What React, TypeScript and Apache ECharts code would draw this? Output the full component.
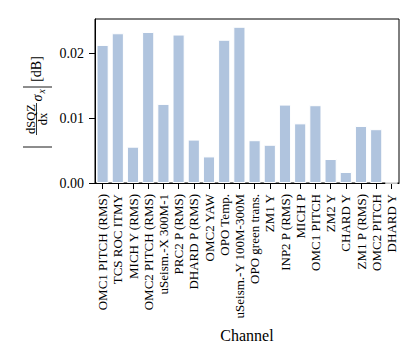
import React, { useEffect, useRef } from "react";
import * as echarts from "echarts";

const categories = [
  "OMC1 PITCH (RMS)",
  "TCS ROC ITMY",
  "MICH Y (RMS)",
  "OMC2 PITCH (RMS)",
  "uSeism.-X 300M-1",
  "PRC2 P (RMS)",
  "DHARD P (RMS)",
  "OMC2 YAW",
  "OPO Temp.",
  "uSeism.-Y 100M-300M",
  "OPO green trans.",
  "ZM1 Y",
  "INP2 P (RMS)",
  "MICH P",
  "OMC1 PITCH",
  "ZM2 Y",
  "CHARD Y",
  "ZM1 P (RMS)",
  "OMC2 PITCH",
  "DHARD Y",
];

const values = [
  0.0213, 0.0231, 0.0056, 0.0233, 0.0122, 0.0229, 0.0067, 0.0041, 0.0221, 0.0241,
  0.0066, 0.0059, 0.0121, 0.0092, 0.012, 0.0037, 0.0017, 0.0088, 0.0083, 0.0,
];

const yTicks = [0, 0.01, 0.02];
const yMax = 0.0253;
const xName = "Channel";

const FONT = "'Liberation Serif', 'Times New Roman', serif";

export default function App() {
  const ref = useRef<HTMLDivElement>(null);
  useEffect(() => {
    if (!ref.current) return;
    const chart = echarts.init(ref.current, null, { renderer: "svg" });
    const lbl = (text: string, x: number, y: number, size: number, extra: any = {}) => ({
      type: "text",
      x,
      y,
      style: {
        text,
        fontFamily: FONT,
        fontSize: size,
        fill: "#000",
        align: "center",
        verticalAlign: "middle",
        ...extra,
      },
    });
    const vline = (x: number, y1: number, y2: number, w = 1) => ({
      type: "line",
      shape: { x1: x, y1, x2: x, y2 },
      style: { stroke: "#000", lineWidth: w },
    });
    chart.setOption({
      animation: false,
      backgroundColor: "#fff",
      textStyle: { fontFamily: FONT, color: "#000" },
      grid: {
        left: 95,
        right: 16,
        top: 19,
        bottom: 177,
        show: true,
        borderColor: "#000",
        borderWidth: 1,
        backgroundColor: "transparent",
      },
      xAxis: {
        type: "category",
        data: categories,
        boundaryGap: true,
        name: xName,
        nameLocation: "middle",
        nameGap: 144,
        nameTextStyle: { fontFamily: FONT, fontSize: 16, color: "#000" },
        axisLine: { show: true, lineStyle: { color: "#000", width: 1 } },
        axisTick: { show: true, alignWithLabel: true, length: 6, lineStyle: { color: "#000", width: 1 } },
        axisLabel: {
          rotate: 90,
          interval: 0,
          margin: 11,
          fontFamily: FONT,
          fontSize: 13,
          color: "#000",
        },
        splitLine: { show: false },
      },
      yAxis: {
        type: "value",
        min: 0,
        max: yMax,
        interval: 0.01,
        axisLine: { show: true, lineStyle: { color: "#000", width: 1 } },
        axisTick: {
          show: true,
          length: 6,
          customValues: yTicks,
          lineStyle: { color: "#000", width: 1 },
        },
        axisLabel: {
          customValues: yTicks,
          margin: 11,
          fontFamily: FONT,
          fontSize: 14,
          color: "#000",
          formatter: (v: number) => v.toFixed(2),
        },
        splitLine: { show: false },
      },
      graphic: [
        {
          type: "group",
          x: 38,
          y: 101,
          rotation: Math.PI / 2,
          children: [
            vline(-46, -15, 14, 0.9),
            lbl("dSQZ", -18, -7, 12.5),
            {
              type: "line",
              shape: { x1: -34, y1: -1.5, x2: -2, y2: -1.5 },
              style: { stroke: "#000", lineWidth: 0.8 },
            },
            lbl("dx", -18, 4.5, 12.5),
            lbl("σ", 3, -1, 14, { fontStyle: "italic" }),
            lbl("x", 9.5, 4, 9.5, { fontStyle: "italic" }),
            vline(14, -15, 14, 0.9),
            lbl("[dB]", 32, -2, 14),
          ],
        },
      ],
      series: [
        {
          type: "bar",
          data: values,
          barCategoryGap: "20%",
          itemStyle: { color: "#b0c4de", borderColor: "#fff", borderWidth: 1 },
        },
      ],
    });
    return () => chart.dispose();
  }, []);
  return (
    <div
      ref={ref}
      style={{ position: "fixed", left: 0, top: 0, width: 415, height: 360 }}
    />
  );
}
